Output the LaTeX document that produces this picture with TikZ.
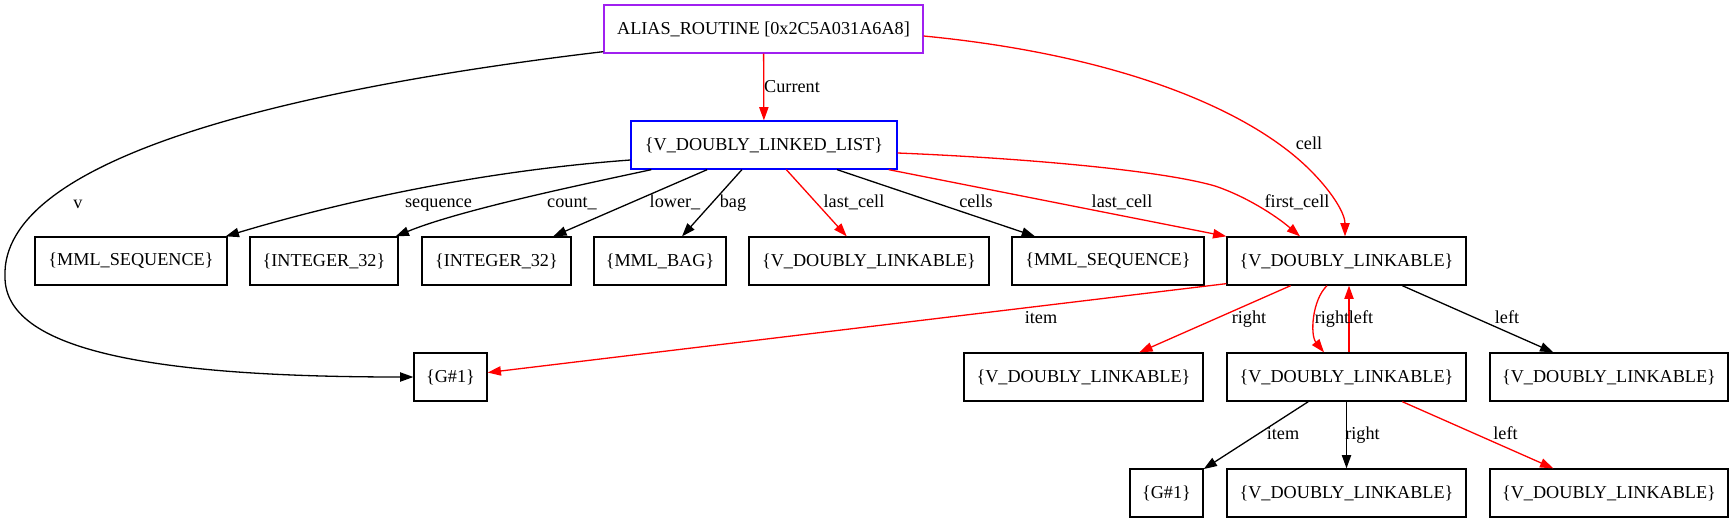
\documentclass[tikz,border=0pt]{standalone}
\usepackage{fontspec}
\setmainfont{Liberation Serif}
\usetikzlibrary{arrows.meta}
\definecolor{gvpurple}{HTML}{A020F0}
\definecolor{gvred}{HTML}{FF0000}
\definecolor{gvblue}{HTML}{0000FF}
\begin{document}
\begin{tikzpicture}[x=1pt,y=-1pt,
  box/.style={draw, line width=1.3pt, inner sep=0pt, minimum height=48pt, font=\fontsize{18.2}{20}\selectfont},
  lbl/.style={inner sep=0pt, anchor=base, font=\fontsize{18.2}{20}\selectfont},
  edge/.style={line width=1.3pt, -{Triangle[length=13.3pt,width=9.3pt]}},
  redge/.style={edge, draw=gvred}]
\useasboundingbox (0,0) rectangle (1734,523);
% nodes
\node[box, draw=gvpurple, minimum width=319pt] (alias) at (763.5,29) {ALIAS\_ROUTINE [0x2C5A031A6A8]};
\node[box, draw=gvblue, minimum width=266pt] (list) at (764,145) {\{V\_DOUBLY\_LINKED\_LIST\}};
\node[box, minimum width=192pt] (ms1) at (131,261) {\{MML\_SEQUENCE\}};
\node[box, minimum width=148pt] (int1) at (324,261) {\{INTEGER\_32\}};
\node[box, minimum width=149pt] (int2) at (496.5,261) {\{INTEGER\_32\}};
\node[box, minimum width=132pt] (bag) at (660,261) {\{MML\_BAG\}};
\node[box, minimum width=240pt] (vdl1) at (869,261) {\{V\_DOUBLY\_LINKABLE\}};
\node[box, minimum width=192pt] (ms2) at (1108,261) {\{MML\_SEQUENCE\}};
\node[box, minimum width=239pt] (main) at (1346.5,261) {\{V\_DOUBLY\_LINKABLE\}};
\node[box, minimum width=73pt] (g1) at (450.5,377) {\{G\#1\}};
\node[box, minimum width=239pt] (r3a) at (1083.5,377) {\{V\_DOUBLY\_LINKABLE\}};
\node[box, minimum width=239pt] (r3b) at (1346.5,377) {\{V\_DOUBLY\_LINKABLE\}};
\node[box, minimum width=238pt] (r3c) at (1609,377) {\{V\_DOUBLY\_LINKABLE\}};
\node[box, minimum width=73pt] (g2) at (1166.5,493) {\{G\#1\}};
\node[box, minimum width=239pt] (r4b) at (1346.5,493) {\{V\_DOUBLY\_LINKABLE\}};
\node[box, minimum width=238pt] (r4c) at (1609,493) {\{V\_DOUBLY\_LINKABLE\}};
% edges
\draw[redge] (alias) -- (list);
\draw[edge] ([yshift=2pt]alias.south west) .. controls (280,90) and (0,160) .. (5,277)
   .. controls (5,350) and (150,377) .. (g1.west);
\draw[redge] ([yshift=-7pt]alias.east) .. controls (1120,55) and (1250,110) .. (1310,170)
   .. controls (1335,195) and (1345,215) .. ([xshift=-1.5pt]main.north);
\draw[edge] ([yshift=-15pt]list.west) .. controls (480,171) and (340,202) .. ([xshift=-2pt]ms1.north east);
\draw[edge] ([xshift=21pt]list.south west) .. controls (580,185) and (460,210) .. ([xshift=-3pt]int1.north east);
\draw[edge] (list) -- (int2);
\draw[edge] (list) -- (bag);
\draw[redge] (list) -- (vdl1);
\draw[edge] (list) -- (ms2);
\draw[redge] (list) -- (main.north west);
\draw[redge] ([yshift=-8pt]list.east) .. controls (1020,158) and (1160,170) .. (1215,186)
   .. controls (1245,196) and (1275,215) .. ([xshift=-46.5pt]main.north);
\draw[redge] ([yshift=2pt]main.south west) -- (g1);
\draw[redge] (main) -- (r3a);
\draw[redge] ([xshift=-19.5pt]main.south) .. controls (1312,300) and (1310,335) .. ([xshift=-22.5pt]r3b.north);
\draw[redge] ([xshift=2.5pt]r3b.north) -- ([xshift=2.5pt]main.south);
\draw[edge] (main) -- (r3c);
\draw[edge] (r3b) -- (g2);
\draw[edge] (r3b) -- (r4b);
\draw[redge] (r3b) -- (r4c);
% labels
\node[lbl] (lcur) at (792,92) {Current};
\node[lbl] (lv) at (78,208) {v};
\node[lbl] (lcell) at (1309,149) {cell};
\node[lbl] (lseq) at (438.5,207) {sequence};
\node[lbl] (lcount) at (572,207) {count\_};
\node[lbl] (llower) at (675,207) {lower\_};
\node[lbl] (lbag) at (733,207) {bag};
\node[lbl] (llast1) at (854,207) {last\_cell};
\node[lbl] (lcells) at (976,207) {cells};
\node[lbl] (llast2) at (1122,207) {last\_cell};
\node[lbl] (lfirst) at (1297,207) {first\_cell};
\node[lbl] (litem1) at (1041,323) {item};
\node[lbl] (lright1) at (1249,323) {right};
\node[lbl] (lright2) at (1332,323) {right};
\node[lbl] (lleft1) at (1361,323) {left};
\node[lbl] (lleft2) at (1507,323) {left};
\node[lbl] (litem2) at (1283,439.5) {item};
\node[lbl] (lright3) at (1362.5,439.5) {right};
\node[lbl] (lleft3) at (1505.5,439.5) {left};
\end{tikzpicture}
\end{document}
